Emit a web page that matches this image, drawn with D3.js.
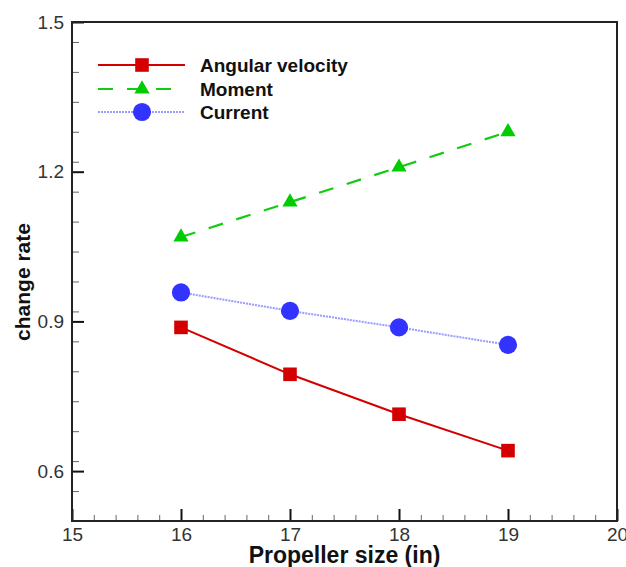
<!DOCTYPE html>
<html><head><meta charset="utf-8">
<script src="https://cdn.jsdelivr.net/npm/d3@7"></script>
<style>body{margin:0;background:#fff}svg{display:block}text{font-family:"Liberation Sans",Arial,sans-serif}</style>
</head><body>
<svg id="c" width="626" height="567"></svg>
<script>
const sizes = [16, 17, 18, 19];
const angularVelocity = [0.888, 0.794, 0.714, 0.641];
const moment = [1.069, 1.139, 1.209, 1.280];
const current = [0.958, 0.921, 0.888, 0.853];
const xTicks = [15, 16, 17, 18, 19, 20];
const yTicks = [0.6, 0.9, 1.2, 1.5];

const svg = d3.select("#c");
const L = 72, R = 617, T = 22, B = 521;
const x = d3.scaleLinear().domain([15, 20]).range([L, R]);
const y = d3.scaleLinear().domain([0.5, 1.5]).range([B, T]);

// minor ticks
const xMinor = d3.range(15, 20.001, 0.2);
const yMinor = d3.range(0.5, 1.5001, 0.06);
svg.append("g").attr("transform", `translate(0,${B})`)
  .call(d3.axisBottom(x).tickValues(xMinor).tickSize(-6).tickFormat(""))
  .call(g => { g.select(".domain").remove(); g.selectAll("line").attr("stroke", "#666").attr("stroke-width", 1); });
svg.append("g").attr("transform", `translate(${L},0)`)
  .call(d3.axisLeft(y).tickValues(yMinor).tickSize(-7).tickFormat(""))
  .call(g => { g.select(".domain").remove(); g.selectAll("line").attr("stroke", "#666").attr("stroke-width", 1); });

// major ticks
svg.append("g").attr("transform", `translate(0,${B})`)
  .call(d3.axisBottom(x).tickValues(xTicks).tickSize(-12).tickPadding(7).tickFormat(d3.format("d")))
  .call(g => { g.select(".domain").remove(); g.selectAll("line").attr("stroke", "#111").attr("stroke-width", 2);
    g.selectAll("text").attr("font-size", 19).attr("fill", "#333"); });
svg.append("g").attr("transform", `translate(${L},0)`)
  .call(d3.axisLeft(y).tickValues(yTicks).tickSize(-12).tickPadding(8).tickFormat(d3.format(".1f")))
  .call(g => { g.select(".domain").remove(); g.selectAll("line").attr("stroke", "#111").attr("stroke-width", 2);
    g.selectAll("text").attr("font-size", 19).attr("fill", "#333"); });

// frame
svg.append("rect").attr("x", L).attr("y", T).attr("width", R - L).attr("height", B - T)
  .attr("fill", "none").attr("stroke", "#222").attr("stroke-width", 2);

// axis titles
svg.append("text").attr("x", (L + R) / 2).attr("y", 563).attr("text-anchor", "middle")
  .attr("font-size", 23).attr("font-weight", "bold").attr("fill", "#111").text("Propeller size (in)");
svg.append("text").attr("transform", `translate(30,282) rotate(-90)`).attr("text-anchor", "middle")
  .attr("font-size", 21).attr("font-weight", "bold").attr("fill", "#111").text("change rate");

const series = [
  {name: "Angular velocity", vals: angularVelocity, color: "#d40000", lineColor: "#d40000", dash: null, width: 2, marker: "square"},
  {name: "Moment", vals: moment, color: "#00cc00", lineColor: "#11cc11", dash: "15,14", width: 2.2, marker: "triangle"},
  {name: "Current", vals: current, color: "#3333ff", lineColor: "#9a9aff", dash: "2,1", width: 2, marker: "circle"}
];
const line = d3.line().x(d => x(d[0])).y(d => y(d[1]));
const symSize = {square: 185, triangle: 100, circle: 260};
const symType = {square: d3.symbolSquare, triangle: d3.symbolTriangle, circle: d3.symbolCircle};

series.forEach(s => {
  const pts = sizes.map((v, i) => [v, s.vals[i]]);
  svg.append("path").attr("d", line(pts)).attr("fill", "none").attr("stroke", s.lineColor)
    .attr("stroke-width", s.width).attr("stroke-dasharray", s.dash);
  svg.append("g").selectAll("path").data(pts).join("path")
    .attr("transform", d => `translate(${x(d[0])},${y(d[1])})`)
    .attr("d", d3.symbol(symType[s.marker], symSize[s.marker])).attr("fill", s.color);
});

// legend
const legY = [65, 89, 112];
series.forEach((s, i) => {
  const g = svg.append("g");
  g.append("line").attr("x1", 98).attr("x2", 185).attr("y1", legY[i]).attr("y2", legY[i])
    .attr("stroke", s.lineColor).attr("stroke-width", s.width)
    .attr("stroke-dasharray", s.marker === "triangle" ? "15,14" : s.dash);
  g.append("path").attr("transform", `translate(142,${legY[i]})`)
    .attr("d", d3.symbol(symType[s.marker], symSize[s.marker])).attr("fill", s.color);
  g.append("text").attr("x", 200).attr("y", legY[i] + 7).attr("font-size", 19).attr("font-weight", "bold")
    .attr("fill", "#111").text(s.name);
});
</script>
</body></html>
